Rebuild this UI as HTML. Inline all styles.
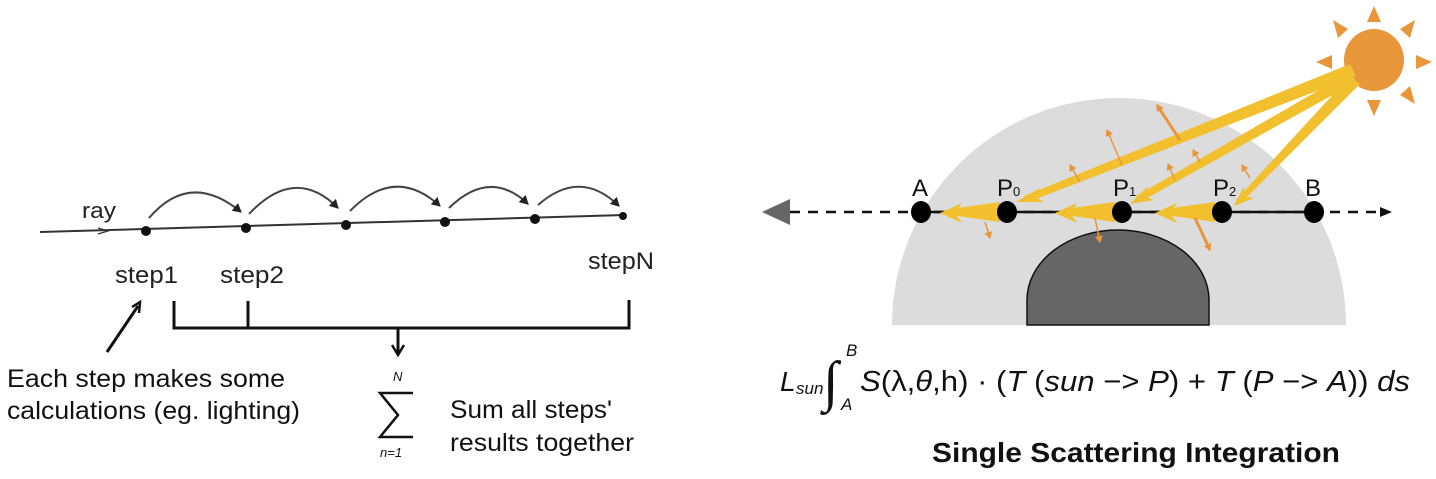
<!DOCTYPE html>
<html><head><meta charset="utf-8"><style>
html,body{margin:0;padding:0;background:#fff;}
svg{display:block;font-family:"Liberation Sans",sans-serif;}
</style></head><body>
<svg width="1436" height="479" viewBox="0 0 1436 479" xmlns="http://www.w3.org/2000/svg">
<defs>
<marker id="ah" markerWidth="10" markerHeight="10" refX="8" refY="5" orient="auto" markerUnits="userSpaceOnUse"><path d="M0,0 L9,5 L0,10 Z" fill="#222"/></marker>
<marker id="oa" markerWidth="8" markerHeight="8" refX="6" refY="4" orient="auto" markerUnits="userSpaceOnUse"><path d="M0,0 L7,4 L0,8 Z" fill="#e8963a"/></marker>
</defs>
<!-- LEFT -->
<line x1="40" y1="232" x2="625" y2="215" stroke="#333" stroke-width="2"/>
<path d="M98,228 L108,231 L98,234" fill="none" stroke="#333" stroke-width="1.2"/>
<g fill="#111"><circle cx="146" cy="231" r="5"/><circle cx="246" cy="228" r="5"/><circle cx="346" cy="225" r="5"/><circle cx="445" cy="222" r="5"/><circle cx="535" cy="219" r="5"/><circle cx="623" cy="216" r="4"/></g>
<g fill="none" stroke="#444" stroke-width="2" marker-end="url(#ah)">
<path d="M149,218 Q190,170 241,212"/>
<path d="M249,214 Q295,165 338,208"/>
<path d="M350,211 Q395,165 440,206"/>
<path d="M449,208 Q490,168 528,204"/>
<path d="M538,205 Q580,168 619,206"/>
</g>
<text x="82" y="218" font-size="22" fill="#222" textLength="34" lengthAdjust="spacingAndGlyphs">ray</text>
<text x="115" y="283" font-size="24" fill="#222" textLength="63" lengthAdjust="spacingAndGlyphs">step1</text>
<text x="220" y="283" font-size="24" fill="#222" textLength="64" lengthAdjust="spacingAndGlyphs">step2</text>
<text x="588" y="269" font-size="24" fill="#222" textLength="66" lengthAdjust="spacingAndGlyphs">stepN</text>
<g stroke="#111" stroke-width="3" fill="none">
<path d="M174,301 V328 H629 V300"/><line x1="248" y1="301" x2="248" y2="328"/>
<line x1="398" y1="328" x2="398" y2="354"/>
<line x1="107" y1="352" x2="138" y2="306"/>
</g>
<path d="M392,345 L398,355 L404,345" fill="none" stroke="#111" stroke-width="2.5"/>
<path d="M132,307 L140,302 L139,313" fill="none" stroke="#111" stroke-width="2.5"/>
<text x="7" y="387" font-size="25" fill="#111" textLength="278" lengthAdjust="spacingAndGlyphs">Each step makes some</text>
<text x="7" y="419" font-size="25" fill="#111" textLength="293" lengthAdjust="spacingAndGlyphs">calculations (eg. lighting)</text>
<text x="393" y="381" font-size="13" font-style="italic" fill="#111">N</text>
<path d="M413,393 L380,393 L398,415 L380,437 L413,437" fill="none" stroke="#111" stroke-width="2.5"/>
<text x="380" y="457" font-size="13" font-style="italic" fill="#111">n=1</text>
<text x="450" y="418" font-size="25" fill="#111" textLength="162" lengthAdjust="spacingAndGlyphs">Sum all steps'</text>
<text x="450" y="451" font-size="25" fill="#111" textLength="184" lengthAdjust="spacingAndGlyphs">results together</text>
<!-- RIGHT -->
<path d="M892,325 A227,227 0 0 1 1346,325 Z" fill="#dcdcdc"/>
<path d="M1027,325 L1027,300 A91,70 0 0 1 1209,300 L1209,325 Z" fill="#666" stroke="#111" stroke-width="1.5"/>
<!-- sun -->
<g fill="#e8963a">
<ellipse cx="1374" cy="60" rx="30" ry="31"/>
<polygon points="1374,6 1367,22 1381,22"/><polygon points="1374,116 1367,100 1381,100"/>
<polygon points="1316,62 1332,55 1332,69"/><polygon points="1432,62 1416,55 1416,69"/>
<polygon points="1333,20 1338,38 1348,29"/><polygon points="1415,20 1400,29 1410,38"/>
<polygon points="1333,104 1348,95 1338,86"/><polygon points="1415,104 1410,86 1400,95"/>
</g>
<!-- dashed line -->
<line x1="790" y1="212" x2="1385" y2="212" stroke="#111" stroke-width="2.5" stroke-dasharray="10,8"/>
<line x1="921" y1="212" x2="1314" y2="212" stroke="#111" stroke-width="2.5"/>
<polygon points="762,212 790,199 790,225" fill="#666"/>
<path d="M1380,207 L1392,212 L1380,217" fill="#111"/>
<!-- yellow rays (wedges) -->
<g fill="#f2c02e">
<polygon points="1350,64 1356,76 1028,202 1024,196"/>
<polygon points="1016,202 1040,188 1034,196 1044,202"/>
<polygon points="1350,72 1356,82 1140,202 1136,196"/>
<polygon points="1130,204 1148,186 1144,196 1154,200"/>
<polygon points="1350,76 1360,84 1240,204 1236,200"/>
<polygon points="1234,206 1244,186 1244,196 1254,198"/>
<polygon points="1000,202 1000,222 950,215 950,209"/>
<polygon points="940,213 962,203 955,213 962,223"/>
<polygon points="1115,202 1115,222 1065,215 1065,209"/>
<polygon points="1055,213 1077,203 1070,213 1077,223"/>
<polygon points="1215,202 1215,222 1165,215 1165,209"/>
<polygon points="1155,213 1177,203 1170,213 1177,223"/>
</g>
<!-- small orange scatter arrows -->
<g stroke="#e8963a" stroke-width="1.5" marker-end="url(#oa)">
<line x1="1122" y1="165" x2="1107" y2="130"/>
<line x1="1180" y1="140" x2="1157" y2="105" stroke-width="3"/>
<line x1="1080" y1="182" x2="1070" y2="165"/>
<line x1="1175" y1="180" x2="1168" y2="164"/>
<line x1="1200" y1="162" x2="1193" y2="150"/>
<line x1="1250" y1="178" x2="1242" y2="165"/>
<line x1="985" y1="222" x2="990" y2="238"/>
<line x1="1095" y1="218" x2="1100" y2="242"/>
<line x1="1195" y1="218" x2="1210" y2="250" stroke-width="3"/>
</g>
<g fill="#000"><ellipse cx="921" cy="212" rx="10" ry="11"/><ellipse cx="1007" cy="212" rx="10" ry="11"/><ellipse cx="1122" cy="212" rx="10" ry="11"/><ellipse cx="1222" cy="212" rx="10" ry="11"/><ellipse cx="1314" cy="212" rx="10" ry="11"/></g>
<g font-size="24" fill="#111">
<text x="912" y="196">A</text>
<text x="997" y="196">P<tspan font-size="13">0</tspan></text>
<text x="1113" y="196">P<tspan font-size="13">1</tspan></text>
<text x="1213" y="196">P<tspan font-size="13">2</tspan></text>
<text x="1305" y="196">B</text>
</g>
<!-- formula -->
<g fill="#111">
<text x="780" y="391" font-size="28" font-style="italic">L</text>
<text x="796" y="394" font-size="17" font-style="italic">sun</text>
<text x="823" y="400" font-size="56" font-family="DejaVu Sans" font-weight="200">∫</text>
<text x="846" y="356" font-size="17" font-style="italic">B</text>
<text x="841" y="410" font-size="17" font-style="italic">A</text>
<text x="860" y="391" font-size="29" textLength="550" lengthAdjust="spacingAndGlyphs"><tspan font-style="italic">S</tspan>(λ,<tspan font-style="italic">θ</tspan>,h) · (<tspan font-style="italic">T</tspan> (<tspan font-style="italic">sun</tspan> −&gt; <tspan font-style="italic">P</tspan>) + <tspan font-style="italic">T</tspan> (<tspan font-style="italic">P</tspan> −&gt; <tspan font-style="italic">A</tspan>)) <tspan font-style="italic">ds</tspan></text>
<text x="932" y="462" font-size="28" font-weight="bold" textLength="408" lengthAdjust="spacingAndGlyphs">Single Scattering Integration</text>
</g>
</svg>
</body></html>
